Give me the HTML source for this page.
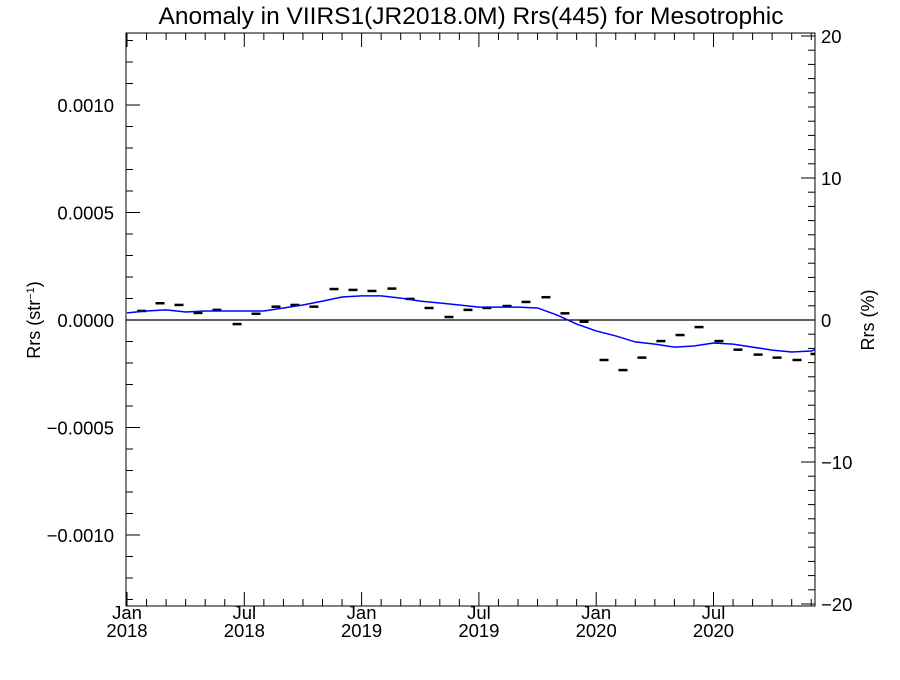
<!DOCTYPE html>
<html><head><meta charset="utf-8"><style>
body{margin:0;background:#fff;}
svg text{font-family:"Liberation Sans",Arial,sans-serif;fill:#000;}
</style></head><body>
<svg id="c" width="900" height="675"></svg>
<script>
const lineMonths=[0,1,2,3,4,5,6,7,8,9,10,11,12,13,14,15,16,17,18,19,20,21,22,23,24,25,26,27,28,29,30,31,32,33,34,35,35.3];
const lineValues=[3.3e-5,4.2e-5,4.7e-5,3.7e-5,4.2e-5,4.2e-5,4.2e-5,4.2e-5,5.6e-5,7.0e-5,8.8e-5,1.07e-4,1.12e-4,1.12e-4,1.02e-4,8.8e-5,7.9e-5,7.0e-5,6.0e-5,6.0e-5,6.0e-5,5.6e-5,2.3e-5,-1.9e-5,-5.1e-5,-7.4e-5,-1.02e-4,-1.12e-4,-1.26e-4,-1.21e-4,-1.07e-4,-1.12e-4,-1.26e-4,-1.40e-4,-1.49e-4,-1.44e-4,-1.35e-4];
const dashMonths=[-0.26,0.75,1.69,2.66,3.63,4.6,5.63,6.6,7.62,8.59,9.56,10.59,11.56,12.53,13.55,14.48,15.45,16.47,17.44,18.41,19.44,20.41,21.43,22.4,23.38,24.4,25.37,26.34,27.31,28.29,29.26,30.28,31.25,32.28,33.25,34.27,35.19];
const dashValues=[1.4e-5,4.2e-5,7.8e-5,7.0e-5,3.3e-5,4.7e-5,-1.9e-5,2.9e-5,6.2e-5,7.0e-5,6.2e-5,1.44e-4,1.40e-4,1.35e-4,1.46e-4,9.8e-5,5.6e-5,1.4e-5,4.7e-5,5.6e-5,6.5e-5,8.4e-5,1.06e-4,3.1e-5,-8e-6,-1.86e-4,-2.33e-4,-1.75e-4,-9.8e-5,-7.0e-5,-3.3e-5,-9.8e-5,-1.38e-4,-1.61e-4,-1.75e-4,-1.86e-4,-1.58e-4];
const leftTicks=[-0.0010,-0.0005,0,0.0005,0.0010];
const leftLabels=["\u22120.0010","\u22120.0005","0.0000","0.0005","0.0010"];
const rightTicks=[-20,-10,0,10,20];
const rightLabels=["\u221220","\u221210","0","10","20"];
const xTickMonths=[0,6,12,18,24,30];
const xTickLabels=[["Jan","2018"],["Jul","2018"],["Jan","2019"],["Jul","2019"],["Jan","2020"],["Jul","2020"]];

const L=126,R=815,T=33,B=606;
const x=m=>127+m*19.55;
const y=v=>320-v*215000;
const yr=p=>320-p*14.2;
const svg=document.getElementById('c');
const NS='http://www.w3.org/2000/svg';
function mk(t,a,p){const e=document.createElementNS(NS,t);for(const k in a)e.setAttribute(k,a[k]);(p||svg).appendChild(e);return e;}
const defs=mk('defs',{});const cp=mk('clipPath',{id:'cp'},defs);mk('rect',{x:L,y:T,width:R-L,height:B-T},cp);

let t=mk('text',{x:471,y:24,'font-size':24.5,'text-anchor':'middle'});t.textContent='Anomaly in VIIRS1(JR2018.0M) Rrs(445) for Mesotrophic';


const frame=mk('rect',{x:L,y:T,width:R-L,height:B-T,fill:'none',stroke:'#000','stroke-width':1});


for(let i=-13;i<=13;i++){const v=i*0.0001;const yy=y(v);if(yy<T||yy>B)continue;const len=(i%5===0)?14:7;
 const tk=mk('line',{x1:L,x2:L+len,y1:yy,y2:yy,stroke:'#000'});}
leftTicks.forEach((v,i)=>{const e=mk('text',{x:L-12,y:y(v)+7,'font-size':18.5,'text-anchor':'end'});e.textContent=leftLabels[i];
 });
for(let p=-20;p<=20;p++){const yy=yr(p);if(yy<T||yy>B)continue;const len=(p%10===0)?14:7;
 const tk=mk('line',{x1:R-len,x2:R,y1:yy,y2:yy,stroke:'#000'});}
rightTicks.forEach((p,i)=>{const e=mk('text',{x:R+6,y:yr(p)+7,'font-size':18.5});e.textContent=rightLabels[i];
 });
for(let m=0;m<=36;m++){const xx=x(m);if(xx>R)continue;const len=(m%6===0)?14:7;
 let tk=mk('line',{x1:xx,x2:xx,y1:B,y2:B-len,stroke:'#000'});
 tk=mk('line',{x1:xx,x2:xx,y1:T,y2:T+len,stroke:'#000'});}
xTickMonths.forEach((m,i)=>{const e=mk('text',{x:x(m),y:619,'font-size':18.5,'text-anchor':'middle'});e.textContent=xTickLabels[i][0];
 
 const e2=mk('text',{x:x(m),y:637,'font-size':18.5,'text-anchor':'middle'});e2.textContent=xTickLabels[i][1];
 });

t=mk('text',{x:0,y:0,'font-size':18,'text-anchor':'middle',transform:'translate(40,320) rotate(-90)'});
t.innerHTML='Rrs (str<tspan font-size="11" dy="-6">\u22121</tspan><tspan dy="6">)</tspan>';

t=mk('text',{x:0,y:0,'font-size':18,'text-anchor':'middle',transform:'translate(874,320) rotate(-90)'});t.textContent='Rrs (%)';


const z=mk('line',{x1:L,x2:R,y1:y(0),y2:y(0),stroke:'#000','stroke-width':1.3});

const g=mk('g',{'clip-path':'url(#cp)'});
dashMonths.forEach((m,i)=>{const d=mk('line',{x1:x(m)-4.5,x2:x(m)+4.5,y1:y(dashValues[i]),y2:y(dashValues[i]),stroke:'#000','stroke-width':2.5},g);
 });
const pl=mk('polyline',{points:lineMonths.map((m,i)=>x(m)+','+y(lineValues[i])).join(' '),fill:'none',stroke:'#0000ff','stroke-width':1.5},g);

</script>
</body></html>
